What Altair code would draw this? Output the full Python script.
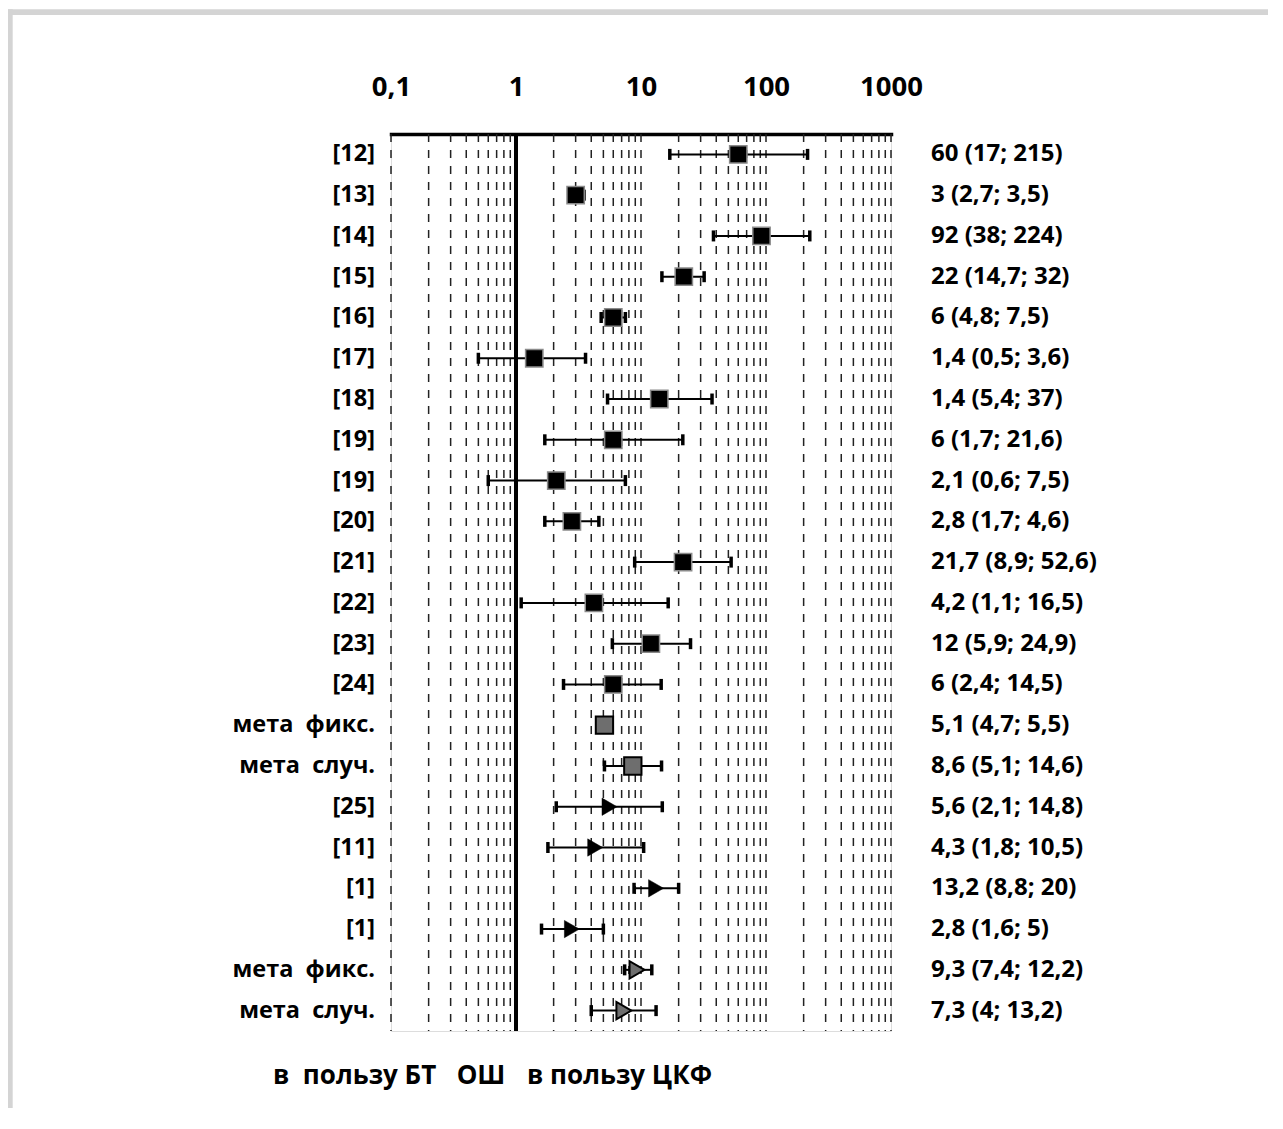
import altair as alt
import pandas as pd

# ---- data ----
left_labels = ["[12]", "[13]", "[14]", "[15]", "[16]", "[17]", "[18]", "[19]", "[19]",
               "[20]", "[21]", "[22]", "[23]", "[24]", "мета\u00a0 фикс.", "мета\u00a0 случ.",
               "[25]", "[11]", "[1]", "[1]", "мета\u00a0 фикс.", "мета\u00a0 случ."]
or_vals = [60, 3, 92, 22, 6, 1.4, 14, 6, 2.1, 2.8, 21.7, 4.2, 12, 6, 5.1, 8.6,
           5.6, 4.3, 13.2, 2.8, 9.3, 7.3]
ci_lo = [17, 2.7, 38, 14.7, 4.8, 0.5, 5.4, 1.7, 0.6, 1.7, 8.9, 1.1, 5.9, 2.4, 4.7, 5.1,
         2.1, 1.8, 8.8, 1.6, 7.4, 4]
ci_hi = [215, 3.5, 224, 32, 7.5, 3.6, 37, 21.6, 7.5, 4.6, 52.6, 16.5, 24.9, 14.5, 5.5, 14.6,
         14.8, 10.5, 20, 5, 12.2, 13.2]
right_labels = ["60 (17; 215)", "3 (2,7; 3,5)", "92 (38; 224)", "22 (14,7; 32)", "6 (4,8; 7,5)",
                "1,4 (0,5; 3,6)", "1,4 (5,4; 37)", "6 (1,7; 21,6)", "2,1 (0,6; 7,5)",
                "2,8 (1,7; 4,6)", "21,7 (8,9; 52,6)", "4,2 (1,1; 16,5)", "12 (5,9; 24,9)",
                "6 (2,4; 14,5)", "5,1 (4,7; 5,5)", "8,6 (5,1; 14,6)", "5,6 (2,1; 14,8)",
                "4,3 (1,8; 10,5)", "13,2 (8,8; 20)", "2,8 (1,6; 5)", "9,3 (7,4; 12,2)",
                "7,3 (4; 13,2)"]
groups = ["study_sq"] * 14 + ["meta_sq"] * 2 + ["study_tri"] * 4 + ["meta_tri"] * 2
axis_values = [0.1, 1, 10, 100, 1000]
grid_values = [k * 10 ** n for n in range(-1, 3) for k in range(1, 10)] + [1000]
bottom_texts = ["в\u00a0 пользу БТ", "ОШ", "в пользу ЦКФ"]

df = pd.DataFrame({
    "idx": list(range(len(left_labels))),
    "left": left_labels,
    "or": or_vals,
    "lo": ci_lo,
    "hi": ci_hi,
    "right": right_labels,
    "grp": groups,
})
grid_df = pd.DataFrame({"g": grid_values})
ref_df = pd.DataFrame({"r": [1]})

FONT = "Open Sans"
W, H = 500, 897
PAD_L, PAD_T, PAD_R, PAD_B = 383, 126, 377, 77

xscale = alt.Scale(type="log", domain=[0.1, 1000])
xaxis = alt.Axis(orient="top", values=axis_values, grid=False, ticks=False,
                 domainWidth=3.5, domainColor="black", domainCap="square",
                 labelFont=FONT, labelFontWeight="bold", labelFontSize=27.5,
                 labelColor="black", labelPadding=33, labelFlush=False,
                 labelExpr="datum.value < 1 ? '0,1' : format(datum.value, 'd')",
                 title=None)
yenc = alt.Y("idx:O", axis=None)

base = alt.Chart(df)

grid = alt.Chart(grid_df).mark_rule(color="#222222", strokeWidth=1.5, strokeDash=[8, 8]).encode(
    x=alt.X("g:Q", scale=xscale, axis=xaxis))
refline = alt.Chart(ref_df).mark_rule(color="black", strokeWidth=4).encode(
    x=alt.X("r:Q", scale=xscale, axis=xaxis))

bars = base.mark_rule(color="black", strokeWidth=2).encode(
    x=alt.X("lo:Q", scale=xscale, axis=xaxis), x2="hi:Q", y=yenc)
cap_lo = base.mark_tick(color="black", thickness=3.5, size=11, opacity=1).encode(
    x=alt.X("lo:Q", scale=xscale, axis=xaxis), y=yenc)
cap_hi = base.mark_tick(color="black", thickness=3.5, size=11, opacity=1).encode(
    x=alt.X("hi:Q", scale=xscale, axis=xaxis), y=yenc)

sq = base.transform_filter(alt.datum.grp == "study_sq").mark_point(
    shape="square", filled=True, fill="black", stroke="#8a8a8a", strokeWidth=1.5,
    size=300, opacity=1).encode(x=alt.X("or:Q", scale=xscale, axis=xaxis), y=yenc)
msq = base.transform_filter(alt.datum.grp == "meta_sq").mark_point(
    shape="square", filled=True, fill="#6e6e6e", stroke="black", strokeWidth=2,
    size=300, opacity=1).encode(x=alt.X("or:Q", scale=xscale, axis=xaxis), y=yenc)
tri = base.transform_filter(alt.datum.grp == "study_tri").mark_point(
    shape="triangle-right", filled=True, fill="black", stroke="black", strokeWidth=0.5,
    size=300, opacity=1).encode(x=alt.X("or:Q", scale=xscale, axis=xaxis), y=yenc)
mtri = base.transform_filter(alt.datum.grp == "meta_tri").mark_point(
    shape="triangle-right", filled=True, fill="#6e6e6e", stroke="black", strokeWidth=2,
    size=300, opacity=1).encode(x=alt.X("or:Q", scale=xscale, axis=xaxis), y=yenc)

ltxt = base.mark_text(align="right", baseline="middle", font=FONT, fontWeight="bold",
                      fontSize=23.5, color="black").encode(
    x=alt.value(-16), y=yenc, text="left:N")
rtxt = base.mark_text(align="left", baseline="middle", font=FONT, fontWeight="bold",
                      fontSize=24, color="black").encode(
    x=alt.value(540), y=yenc, text="right:N")

def btext(i, xpos, align):
    return alt.Chart(pd.DataFrame({"t": [bottom_texts[i]]})).mark_text(
        align=align, baseline="middle", font=FONT, fontWeight="bold", fontSize=26,
        color="black").encode(x=alt.value(xpos), y=alt.value(942), text="t:N")

frame_df = pd.DataFrame({"a": [0]})
frame_top = alt.Chart(frame_df).mark_rect(color="#d4d4d4").encode(
    x=alt.value(-384), x2=alt.value(W + PAD_R), y=alt.value(-124.7), y2=alt.value(-119))
frame_left = alt.Chart(frame_df).mark_rect(color="#d4d4d4").encode(
    x=alt.value(-383.7), x2=alt.value(-378.3), y=alt.value(-124.7), y2=alt.value(H + PAD_B))

chart = alt.layer(
    frame_top, frame_left, grid, refline, bars, cap_lo, cap_hi, sq, msq, tri, mtri,
    ltxt, rtxt, btext(0, -118, "left"), btext(1, 90, "center"), btext(2, 136, "left")
).properties(
    width=W, height=H,
    autosize=alt.AutoSizeParams(type="none"),
    padding={"left": PAD_L, "top": PAD_T, "right": PAD_R, "bottom": PAD_B},
).configure_view(stroke=None).configure(background="white")

chart.save("out.html", embed_options={"renderer": "svg", "actions": False})
